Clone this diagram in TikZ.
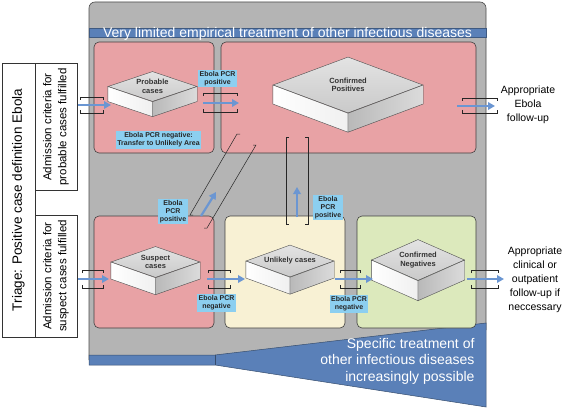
\documentclass[tikz,border=0pt]{standalone}
\usepackage{fontspec}
\setmainfont{Liberation Sans}
\usetikzlibrary{shapes.geometric,arrows.meta}
\definecolor{panelgrey}{HTML}{B4B4B4}
\definecolor{pinkzone}{HTML}{E8A2A5}
\definecolor{creamzone}{HTML}{F8F1D4}
\definecolor{greenzone}{HTML}{DCE9BC}
\definecolor{bandblue}{HTML}{5A80B8}
\definecolor{tagblue}{HTML}{8CCFF0}
\definecolor{arrowblue}{HTML}{6B96D2}
\tikzset{
        zone/.style={draw=black!75, line width=0.6pt, rounded corners=5pt},
        slab/.style={diamond, draw=black!70, line width=0.4pt, inner sep=0pt, top color=gray!22, bottom color=gray!42, text=black!80, font=\fontsize{7.5}{8.5}\selectfont\bfseries, align=center},
        slabside/.style={draw=black!70, line width=0.4pt},
        tag/.style={fill=tagblue, text=black!85, inner sep=1.5pt, align=center, font=\fontsize{7}{8}\selectfont\bfseries},
        gate/.style={draw=black!85, line width=0.5pt},
        flow/.style={draw=arrowblue, line width=2.2pt, -{Triangle[length=7pt,width=7.5pt]}},
        sidebox/.style={draw=black!80, line width=0.6pt, fill=white},
        bigwhite/.style={text=white, font=\fontsize{14}{16.5}\selectfont},
        outtext/.style={align=center, font=\fontsize{10.5}{14}\selectfont}
          }
\begin{document}
\begin{tikzpicture}[x=1pt, y=-1pt]
            \useasboundingbox (0,0) rectangle (567,409);
            % grey area and blue bands
            \fill[panelgrey, rounded corners=6pt] (89,365) -- (89,2) -- (486,2) -- (486,330) -- (215,360) -- cycle;
            \draw[black!70, line width=0.6pt, rounded corners=6pt] (89,360) -- (89,2) -- (486,2) -- (486,330);
            \filldraw[fill=bandblue, draw=bandblue!60!black, line width=0.5pt] (89,355) -- (215,355) -- (486,323) -- (486,407) -- (215,365) -- (89,365) -- cycle;
            \draw[bandblue!60!black, line width=0.5pt] (215,355) -- (215,365);
            \filldraw[fill=bandblue, draw=bandblue!70!black, line width=0.3pt] (89,28) rectangle (486,37);
            \node[bigwhite, anchor=base] (limited) at (287.5,38) {Very limited empirical treatment of other infectious diseases};
            \node[bigwhite, anchor=east, align=right] (specific) at (478,361) {Specific treatment of\\other infectious diseases\\increasingly possible};
            % areas
            \draw[zone, fill=pinkzone] (94,42) rectangle (214,153);
            \draw[zone, fill=pinkzone] (221,42) rectangle (476,153);
            \draw[zone, fill=pinkzone] (94,216) rectangle (214,328);
            \draw[zone, fill=creamzone] (225,216) rectangle (345,328);
            \draw[zone, fill=greenzone] (357,216) rectangle (476,328);
            % case slabs
            \node[slab, minimum width=89pt, minimum height=30pt, aspect=2.97] (prob) at (152.5,86.5) {Probable\\cases};
            \node[slab, minimum width=150pt, minimum height=56pt, aspect=2.68] (conf) at (348,85) {Confirmed\\Positives};
            \node[slab, minimum width=89pt, minimum height=31pt, aspect=2.87] (susp) at (155.5,262) {Suspect\\cases};
            \node[slab, minimum width=88pt, minimum height=32pt, aspect=2.75] (unl) at (290,261) {Unlikely cases};
            \node[slab, minimum width=93pt, minimum height=41pt, aspect=2.27] (neg) at (418,260) {Confirmed\\Negatives};
            \foreach \n/\dz in {prob/15, conf/19, susp/17, unl/17, neg/20}{
              \draw[slabside, left color=white, right color=gray!12] (\n.west) -- (\n.south) -- ([yshift=-\dz pt]\n.south) -- ([yshift=-\dz pt]\n.west) -- cycle;
              \draw[slabside, left color=gray!55, right color=gray!28] (\n.south) -- (\n.east) -- ([yshift=-\dz pt]\n.east) -- ([yshift=-\dz pt]\n.south) -- cycle;
            }
            % passages
            \foreach \xa/\xb/\ya/\yb in {80/103/97/113, 203/237/93/112, 462/497/98/113, 82/103/270/288, 208/230/270/288, 340/360/270/288, 471/498/270/288}{
              \draw[gate] (\xa,\ya+3) -- (\xa,\ya) -- (\xb,\ya) -- (\xb,\ya+3);
              \draw[gate] (\xa,\yb-3) -- (\xa,\yb) -- (\xb,\yb) -- (\xb,\yb-3);
            }
            \draw[gate] (289,137) -- (286,137) -- (286,224) -- (289,224);
            \draw[gate] (305,137) -- (308,137) -- (308,224) -- (305,224);
            \draw[gate] (240,134) -- (237,134) -- (190,215) -- (193,215);
            \draw[gate] (253,145) -- (256,145) -- (207,228) -- (204,228);
            % flows
            \coordinate (inP) at (70,105);    \coordinate (inPend) at (111,105);
            \coordinate (pc) at (203,103);    \coordinate (pcend) at (239,103);
            \coordinate (outP) at (457,106);  \coordinate (outPend) at (495,106);
            \coordinate (inS) at (70,279);    \coordinate (inSend) at (109,279);
            \coordinate (su) at (207,279);    \coordinate (suend) at (245,279);
            \coordinate (un) at (335,279);    \coordinate (unend) at (373,279);
            \coordinate (outN) at (467,279);  \coordinate (outNend) at (504,279);
            \coordinate (sc) at (201,216);    \coordinate (scend) at (216,192);
            \coordinate (uc) at (297,217);    \coordinate (ucend) at (297,187);
            \foreach \a/\b in {inP/inPend, pc/pcend, outP/outPend, inS/inSend, su/suend, un/unend, outN/outNend, sc/scend, uc/ucend}
              \draw[flow] (\a) -- (\b);
            % PCR results
            \node[tag] (tagPpos) at (217.5,78.5) {Ebola PCR\\positive};
            \node[tag] (tagPneg) at (158.5,140) {Ebola PCR negative:\\Transfer to Unlikely Area};
            \node[tag] (tagSpos) at (173,211.5) {Ebola\\PCR\\positive};
            \node[tag] (tagUpos) at (328,207.5) {Ebola\\PCR\\positive};
            \node[tag] (tagSneg) at (216.5,303) {Ebola PCR\\negative};
            \node[tag] (tagUneg) at (349,304) {Ebola PCR\\negative};
            % triage column
            \draw[sidebox] (2,63) rectangle (35,337);
            \draw[sidebox] (35,63) rectangle (77,190);
            \draw[sidebox] (35,215) rectangle (77,337);
            \node[rotate=90, font=\fontsize{13.5}{16}\selectfont] (triage) at (18.5,200) {Triage: Positive case definition Ebola};
            \node[rotate=90, align=center, font=\fontsize{11.5}{15}\selectfont] (admP) at (56,127) {Admission criteria for\\probable cases fulfilled};
            \node[rotate=90, align=center, font=\fontsize{11.5}{15}\selectfont] (admS) at (56,276) {Admission criteria for\\suspect cases fulfilled};
            % follow-up
            \node[outtext] (fupP) at (528,105) {Appropriate\\Ebola\\follow-up};
            \node[outtext] (fupN) at (535,280) {Appropriate\\clinical or\\outpatient\\follow-up if\\neccessary};
          \end{tikzpicture}
\end{document}
